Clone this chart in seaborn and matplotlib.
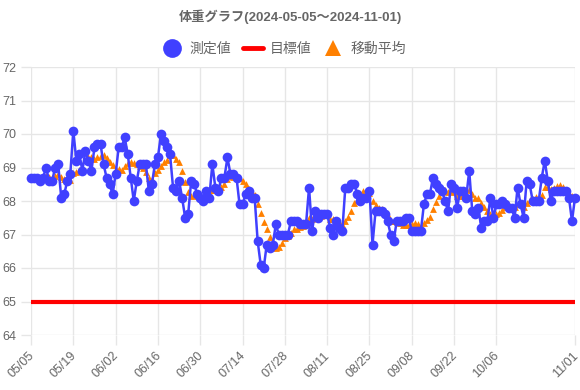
import pandas as pd
import matplotlib
matplotlib.use("Agg")
import matplotlib.pyplot as plt
import matplotlib.dates as mdates
import matplotlib.transforms as mtransforms
from matplotlib.lines import Line2D
import seaborn as sns

START = "2024-05-05"
END = "2024-11-01"
weights = [
    68.7, 68.7, 68.7, 68.6, 68.7, 69.0, 68.6, 68.6, 69.0, 69.1, 68.1, 68.2, 68.6, 68.8,
    70.1, 69.2, 69.4, 68.9, 69.5, 69.2, 68.9, 69.6, 69.7, 69.7, 69.1, 68.7, 68.5, 68.2,
    68.8, 69.6, 69.6, 69.9, 69.4, 68.7, 68.0, 68.6, 69.1, 69.1, 69.1, 68.3, 68.5, 69.1,
    69.3, 70.0, 69.8, 69.6, 69.4, 68.4, 68.3, 68.6, 68.1, 67.5, 67.6, 68.6, 68.5, 68.2,
    68.1, 68.0, 68.3, 68.1, 69.1, 68.4, 68.3, 68.7, 68.7, 69.3, 68.8, 68.8, 68.7, 67.9,
    67.9, 68.2, 68.3, 68.1, 68.1, 66.8, 66.1, 66.0, 66.7, 66.6, 66.7, 67.3, 67.0, 67.0,
    67.0, 67.0, 67.4, 67.4, 67.4, 67.3, 67.3, 67.3, 68.4, 67.1, 67.7, 67.5, 67.6, 67.6,
    67.6, 67.2, 67.0, 67.4, 67.2, 67.1, 68.4, 68.4, 68.5, 68.5, 68.2, 68.0, 68.1, 68.1,
    68.3, 66.7, 67.7, 67.7, 67.7, 67.6, 67.4, 67.0, 66.8, 67.4, 67.4, 67.4, 67.5, 67.5,
    67.1, 67.1, 67.1, 67.1, 67.9, 68.2, 68.2, 68.7, 68.5, 68.4, 68.3, 68.0, 67.7, 68.5,
    68.4, 67.8, 68.3, 68.3, 68.1, 68.9, 67.7, 67.6, 67.8, 67.2, 67.4, 67.4, 68.1, 67.5,
    67.9, 67.9, 68.0, 67.9, 67.8, 67.8, 67.5, 68.4, 67.9, 67.5, 68.6, 68.5, 68.0, 68.0,
    68.0, 68.7, 69.2, 68.6, 68.0, 68.3, 68.3, 68.3, 68.3, 68.3, 68.1, 67.4, 68.1,
]
TARGET = 65
MA_WINDOW = 7
y_ticks = [64, 65, 66, 67, 68, 69, 70, 71, 72]

BLUE = "#4040FF"
RED = "#FF0000"
ORANGE = "#FF8000"
TEXT = "#666666"
GRID = "#e6e6e6"

df = pd.DataFrame({"date": pd.date_range(START, END, freq="D"), "weight": weights})
df["ma"] = df["weight"].rolling(MA_WINDOW, min_periods=1).mean()

x_ticks = list(pd.date_range(START, END, freq="14D")[:-1]) + [pd.Timestamp(END)]

sns.set_theme(style="white")
plt.rcParams["font.family"] = ["Liberation Sans", "Noto Sans CJK JP"]

fig = plt.figure(figsize=(5.8, 3.9), dpi=100)
ax = fig.add_axes([31 / 580, 55 / 390, 544 / 580, 268 / 390])

ax.axhline(TARGET, color=RED, lw=3, zorder=2)
sns.scatterplot(data=df, x="date", y="ma", marker="^", s=24, color=ORANGE,
                linewidth=0, ax=ax, zorder=3, clip_on=False)
sns.lineplot(data=df, x="date", y="weight", color=BLUE, lw=1.8, marker="o",
             markersize=7, markeredgewidth=0, ax=ax, zorder=4, clip_on=False)

ax.set_xlim(pd.Timestamp(START), pd.Timestamp(END))
ax.set_ylim(64, 72)
ax.set_xticks(x_ticks)
ax.xaxis.set_major_formatter(mdates.DateFormatter("%m/%d"))
ax.set_yticks(y_ticks)
ax.grid(True, color=GRID, lw=1)
ax.set_axisbelow(True)
for s in ax.spines.values():
    s.set_visible(False)
ax.tick_params(axis="both", length=7, width=1, color=GRID, labelcolor=TEXT,
               labelsize=9, left=True, bottom=True)
shift = mtransforms.ScaledTranslation(-3 / 100, 0, fig.dpi_scale_trans)
for lab in ax.get_xticklabels():
    lab.set_rotation(45)
    lab.set_ha("right")
    lab.set_rotation_mode("anchor")
    lab.set_transform(lab.get_transform() + shift)
ax.set_xlabel("")
ax.set_ylabel("")
if ax.get_legend():
    ax.get_legend().remove()

fig.text(0.5, 1 - 17 / 390, "体重グラフ(2024-05-05～2024-11-01)", ha="center",
         va="center", fontsize=9.5, fontweight="bold", color=TEXT)

handles = [
    Line2D([0], [0], marker="o", color=BLUE, linestyle="None", markersize=13.5,
           markeredgewidth=0, label="測定値"),
    Line2D([0], [0], color=RED, lw=3.5, label="目標値"),
    Line2D([0], [0], marker="^", color=ORANGE, linestyle="None", markersize=12,
           markeredgewidth=0, label="移動平均"),
]
fig.legend(handles=handles, loc="center", bbox_to_anchor=(0.49, 1 - 49 / 390),
           ncol=3, frameon=False, fontsize=10, labelcolor=TEXT,
           handlelength=1.4, handletextpad=0.5, columnspacing=0.9)

fig.savefig("out.png", dpi=100, facecolor="white")
